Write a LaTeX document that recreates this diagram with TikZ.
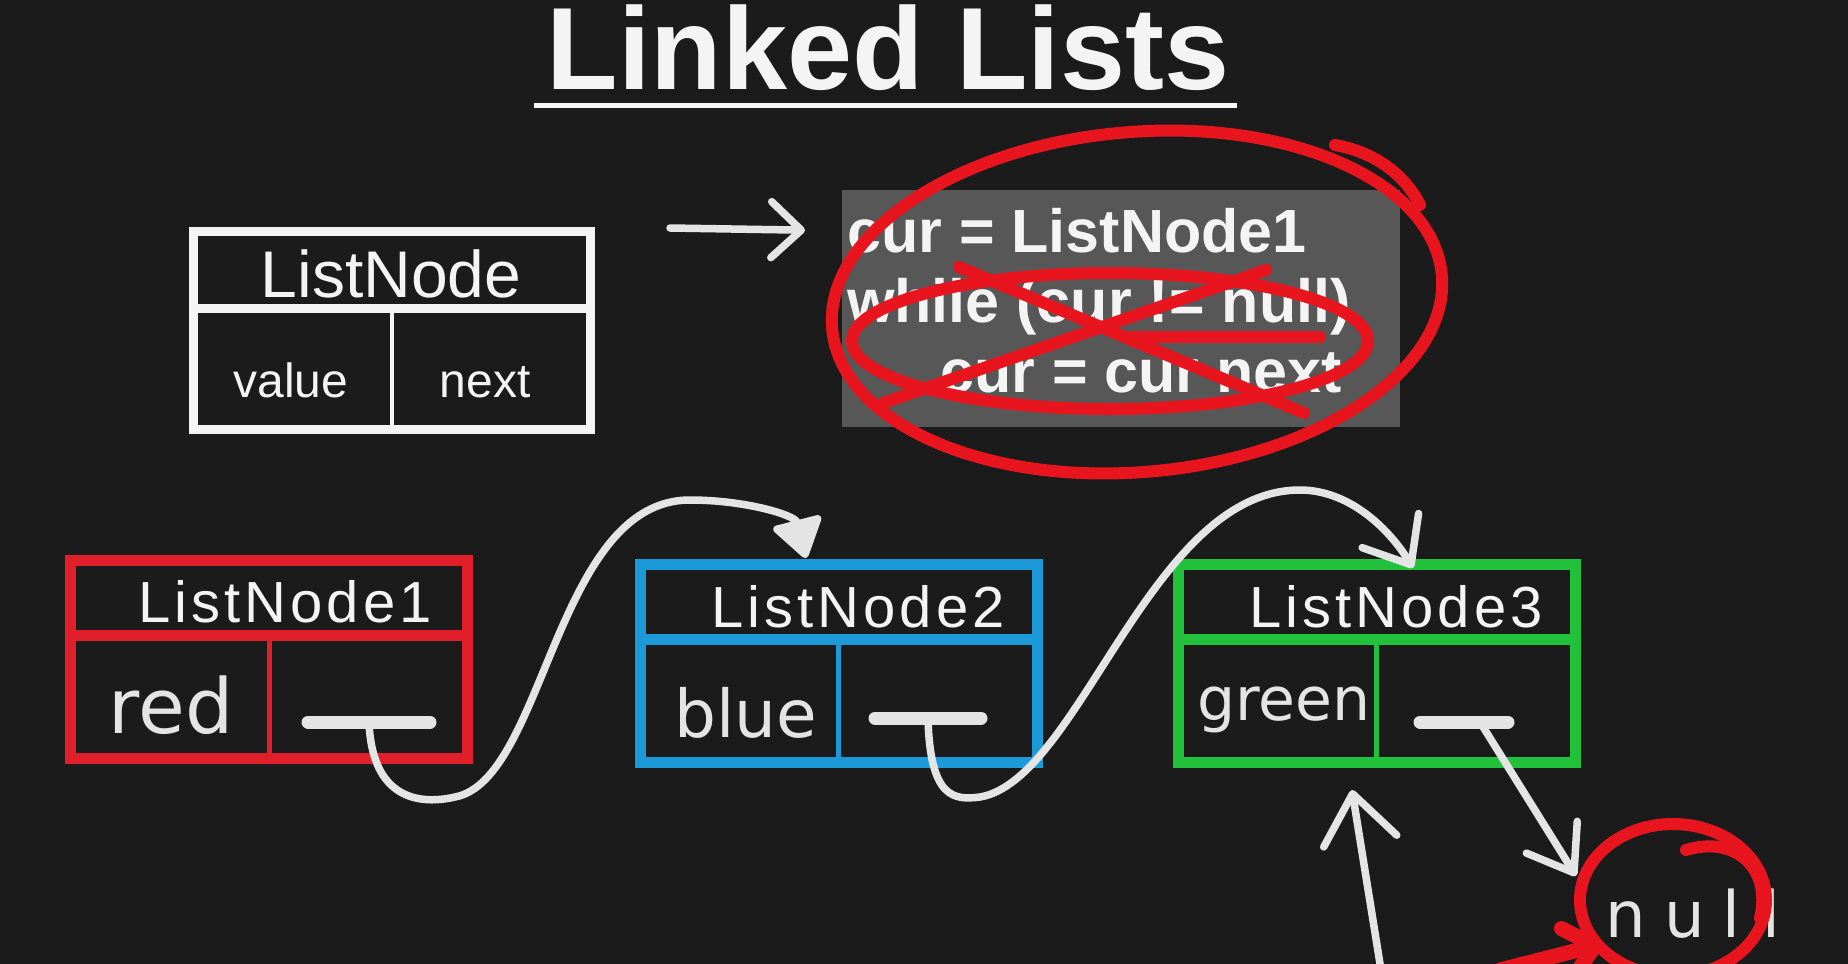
\documentclass[tikz,border=0pt]{standalone}
\usepackage{fontspec}
\setmainfont{Liberation Sans}
\newfontfamily\handfont{DejaVu Sans}
\newfontfamily\spacedfont{Liberation Sans}[LetterSpace=7]
\usetikzlibrary{arrows.meta, positioning, calc}
\definecolor{board}{HTML}{1B1B1B}
\definecolor{chalk}{HTML}{F4F4F4}
\definecolor{scrawl}{HTML}{E4E4E4}
\definecolor{slate}{HTML}{575757}
\definecolor{boxred}{HTML}{E01F2B}
\definecolor{boxblue}{HTML}{1C9AD8}
\definecolor{boxgreen}{HTML}{21C13C}
\definecolor{marker}{HTML}{E8151F}

\begin{document}
\begin{tikzpicture}[x=1pt, y=-1pt,
  listbox/.style={minimum width=397pt, minimum height=198pt, inner sep=0pt, line width=11pt},
  hdr/.style={font=\spacedfont\fontsize{58}{60}\selectfont, text=chalk, inner sep=0pt, anchor=base},
  cell/.style={font=\fontsize{48}{50}\selectfont, text=chalk, inner sep=0pt, anchor=base},
  hand/.style={font=\handfont\fontsize{72}{74}\selectfont, text=scrawl, inner sep=0pt, anchor=base},
  codetxt/.style={font=\bfseries\fontsize{61}{63}\selectfont, text=chalk, inner sep=0pt, anchor=base west},
  pen/.style={draw=scrawl, line width=7.5pt, line cap=round, line join=round},
  tick/.style={draw=scrawl, line width=13pt, line cap=round},
  redpen/.style={draw=marker, line width=12pt, line cap=round, line join=round},
  barb/.style={-{Straight Barb[length=30pt, width=56pt, round]}},
  blob/.style={-{Triangle[length=42pt, width=54pt, round]}}
]
\fill[board] (0,0) rectangle (1848,964);
\useasboundingbox (0,0) rectangle (1848,964);

% title
\node[font=\bfseries\fontsize{117}{120}\selectfont, text=chalk, inner sep=0pt, anchor=base] (title) at (888,89) {Linked Lists};
\draw[chalk, line width=5pt] ([xshift=-12pt, yshift=-16pt]title.base west) -- ([xshift=7pt, yshift=-16pt]title.base east);

% the node template
\node[listbox, draw=chalk, line width=9pt] (proto) at (392,330.5) {};
\draw[chalk, line width=9pt] ([yshift=-81pt]proto.north west) -- ([yshift=-81pt]proto.north east);
\draw[chalk, line width=4.5pt] ([yshift=-81pt]proto.north) -- (proto.south);
\node[hdr, font=\fontsize{66}{68}\selectfont] (protoname) at (391,297) {ListNode};
\node[cell] (protoval) at (291,397) {value};
\node[cell] (protonext) at (485,397) {next};

% traversal code
\node[fill=slate, minimum width=558pt, minimum height=237pt, inner sep=0pt] (code) at (1121,308.5) {};
\node[codetxt] (line1) at (847,252) {cur = ListNode1};
\node[codetxt] (line2) at (847,322) {while (cur != null)};
\node[codetxt] (line3) at (940,392) {cur = cur next};
\coordinate (hint) at (670,228);
\draw[pen, barb] (hint) -- ([xshift=-42pt]line1.west);

% red scribbles over the code
\draw[redpen, shift={(1137,302)}, rotate=5] (0,0) ellipse [x radius=306, y radius=170];
\draw[redpen] (1335,145) .. controls (1375,152) and (1405,175) .. (1420,205);
\draw[redpen] (1110,341) ellipse [x radius=258, y radius=68];
\draw[redpen] (959,267) -- (1304,413);
\draw[redpen] (1266,270) -- (883,403);
\draw[redpen] (1130,337) -- (1320,337);

% list nodes
\node[listbox, draw=boxred] (n1) at (269,659) {};
\draw[boxred, line width=11pt] ([yshift=-81pt]n1.north west) -- ([yshift=-81pt]n1.north east);
\draw[boxred, line width=5pt] ([yshift=-81pt]n1.north) -- (n1.south);
\node[hdr] (n1name) at (285,622) {ListNode1};
\node[hand, font=\handfont\fontsize{76}{78}\selectfont] (n1val) at (171,733) {red};
\coordinate (ptr1) at (369,722);
\draw[tick] ([xshift=-61pt]ptr1) -- ([xshift=61pt]ptr1);

\node[listbox, draw=boxblue] (n2) at (838.5,663) {};
\draw[boxblue, line width=11pt] ([yshift=-81pt]n2.north west) -- ([yshift=-81pt]n2.north east);
\draw[boxblue, line width=5pt] ([yshift=-81pt]n2.north) -- (n2.south);
\node[hdr] (n2name) at (858,627) {ListNode2};
\node[hand, font=\handfont\fontsize{66}{68}\selectfont] (n2val) at (746,737) {blue};
\coordinate (ptr2) at (928,718);
\draw[tick] ([xshift=-53pt]ptr2) -- ([xshift=53pt]ptr2);

\node[listbox, draw=boxgreen] (n3) at (1376.5,663) {};
\draw[boxgreen, line width=11pt] ([yshift=-81pt]n3.north west) -- ([yshift=-81pt]n3.north east);
\draw[boxgreen, line width=5pt] ([yshift=-81pt]n3.north) -- (n3.south);
\node[hdr] (n3name) at (1396,627) {ListNode3};
\node[hand, font=\handfont\fontsize{60}{62}\selectfont] (n3val) at (1284,720) {green};
\coordinate (ptr3) at (1464,722);
\draw[tick] ([xshift=-44pt]ptr3) -- ([xshift=44pt]ptr3);

% next pointers
\coordinate (land2) at (806,558);
\coordinate (land3) at (1413,568);
\draw[pen, blob] (ptr1) .. controls (372,800) and (420,805) .. (455,797)
  .. controls (545,780) and (555,500) .. (690,500)
  .. controls (745,500) and (795,515) .. (land2);
\draw[pen, -{Straight Barb[length=40pt, width=66pt, round]}] (ptr2) .. controls (930,800) and (955,800) .. (980,797)
  .. controls (1080,780) and (1150,490) .. (1300,490)
  .. controls (1350,490) and (1390,530) .. (land3);

% null end
\node[hand, font=\handfont\fontsize{64}{66}\selectfont] (nullv) at (1693,937) {n\kern18pt u\kern18pt l\kern22pt l};
\coordinate (nulltip) at (1576,876);
\draw[pen, -{Straight Barb[length=42pt, width=60pt, round]}] ([xshift=16pt]ptr3) -- (nulltip);
\coordinate (upfoot) at (1381,970);
\coordinate (uptip) at (1352,790);
\draw[pen, -{Straight Barb[length=48pt, width=74pt, round]}] (upfoot) -- (uptip);
\draw[redpen] (1673,900) ellipse [x radius=93, y radius=76];
\draw[redpen] (1686,850) .. controls (1735,835) and (1772,868) .. (1760,918);
\coordinate (redfoot) at (1500,970);
\coordinate (ringhit) at (1602,944);
\draw[redpen, line width=15pt, -{Straight Barb[length=28pt, width=50pt, round]}] (redfoot) -- (ringhit);
\end{tikzpicture}
\end{document}
